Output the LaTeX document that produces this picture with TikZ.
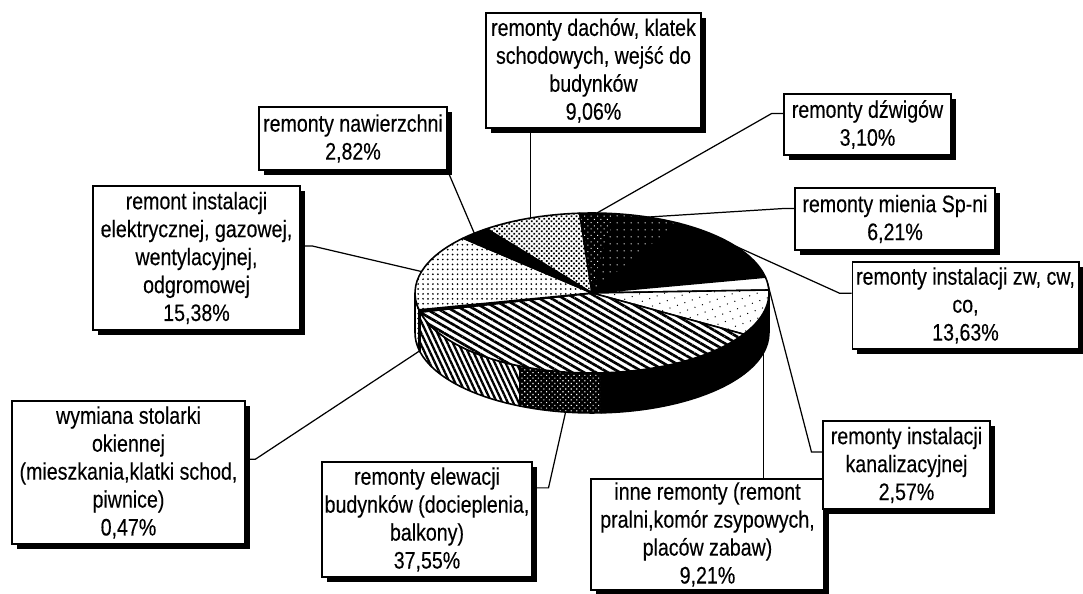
\documentclass[tikz,border=0pt]{standalone}
\usepackage{fontspec}
\setmainfont{Liberation Sans}[FakeStretch=0.82, FakeBold=0.25]
\usetikzlibrary{positioning,shadows,patterns.meta}

\newcommand{\pierx}{3.54cm}
\newcommand{\piery}{1.6cm}
\newcommand{\piedep}{0.8cm}

\begin{document}
\begin{tikzpicture}[
    x=0.02cm, y=0.02cm,
    lbl/.style={rectangle, draw, line width=0.6pt, fill=white, align=center, inner sep=1pt,
        font=\fontsize{13.6}{15.9}\selectfont,
        drop shadow={shadow xshift=2.8pt, shadow yshift=-2.8pt, fill=black, opacity=1}},
    leader/.style={line width=0.7pt},
    slice/.style={draw=black, line width=0.9pt, line join=round},
    dachfill/.style={slice, preaction={fill=white}, pattern={Dots[distance=2pt, radius=0.7pt, angle=45]}},
    dzwfill/.style={slice, preaction={fill=black}, pattern={Dots[distance=2.6pt, radius=0.4pt, angle=45]}, pattern color=white},
    miefill/.style={slice, preaction={fill=black}, pattern={Dots[distance=4pt, radius=0.45pt]}, pattern color=white},
    zwfill/.style={slice, fill=black},
    kanfill/.style={slice, fill=white},
    innfill/.style={slice, preaction={fill=white}, pattern={Dots[distance=4.5pt, radius=0.4pt, angle=20]}},
    elefill/.style={slice, preaction={fill=white}, pattern={Lines[angle=-30, distance=3.4pt, line width=1.5pt]}},
    stofill/.style={slice, fill=black},
    elkfill/.style={slice, preaction={fill=white}, pattern={Dots[distance=2.8pt, radius=0.55pt]}},
    nawfill/.style={slice, fill=black},
    elestripe/.style={slice, preaction={fill=white}, pattern={Lines[angle=-65, distance=2.8pt, line width=1.3pt]}},
    eledots/.style={slice, preaction={fill=black}, pattern={Dots[distance=2.2pt, radius=0.45pt, angle=45]}, pattern color=white}
]
\useasboundingbox (0,0) rectangle (1083,-594);

% pie
\begin{scope}[shift={(592,-293)}]
  % side faces
  \foreach \ta/\tb/\sty in {-167.86/-180/elkfill, -166.17/-167.86/stofill, -114/-166.17/elestripe,
      -87/-114/eledots, -30.99/-87/zwfill, 0/-30.99/zwfill}
    \path[\sty] (\ta:3.54cm and 1.6cm) arc[start angle=\ta, end angle=\tb, x radius=\pierx, y radius=\piery]
      -- ++(0,-\piedep) arc[start angle=\tb, end angle=\ta, x radius=\pierx, y radius=\piery] -- cycle;
  % top faces
  \foreach \ta/\tb/\sty in {126.62/94/dachfill, 94/82.84/dzwfill, 82.84/60.48/miefill, 60.48/11.42/zwfill,
      11.42/2.16/kanfill, 2.16/-30.99/innfill, -30.99/-166.17/elefill, -166.17/-167.86/stofill,
      -167.86/-223.23/elkfill, -223.23/-233.38/nawfill}
    \path[\sty] (0,0) -- (\ta:3.54cm and 1.6cm) arc[start angle=\ta, end angle=\tb, x radius=\pierx, y radius=\piery] -- cycle;
  % leader ends
  \coordinate (p-naw)  at (131.69:3.54cm and 1.6cm);
  \coordinate (p-dach) at (110.31:3.54cm and 1.6cm);
  \coordinate (p-dzw)  at (88.42:3.54cm and 1.6cm);
  \coordinate (p-mie)  at (71.66:3.54cm and 1.6cm);
  \coordinate (p-zw)   at (35.95:3.54cm and 1.6cm);
  \coordinate (p-kan)  at (6.79:3.54cm and 1.6cm);
  \coordinate (p-elk)  at (164.45:3.54cm and 1.6cm);
  \begin{scope}[yshift=-\piedep]
    \coordinate (p-inn) at (-14.41:3.54cm and 1.6cm);
    \coordinate (p-ele) at (-98.58:3.54cm and 1.6cm);
    \coordinate (p-sto) at (-167.02:3.54cm and 1.6cm);
  \end{scope}
\end{scope}

% labels
\node[lbl, minimum width=3.76cm, minimum height=1.26cm] (nawierzchni) at (353,-138.5) {remonty nawierzchni\\2,82\%};
\node[lbl, minimum width=4.3cm, minimum height=2.3cm] (dachow) at (593.5,-70.5) {remonty dachów, klatek\\schodowych, wejść do\\budynków\\9,06\%};
\node[lbl, minimum width=3.34cm, minimum height=1.22cm] (dzwigow) at (867.5,-124.5) {remonty dźwigów\\3,10\%};
\node[lbl, minimum width=4.0cm, minimum height=1.24cm] (mienia) at (895,-219) {remonty mienia Sp-ni\\6,21\%};
\node[lbl, minimum width=4.54cm, minimum height=1.74cm] (zw) at (965.5,-305.5) {remonty instalacji zw, cw,\\co,\\13,63\%};
\node[lbl, minimum width=4.66cm, minimum height=2.22cm] (inne) at (707.5,-534.5) {inne remonty (remont\\pralni,komór zsypowych,\\placów zabaw)\\9,21\%};
\node[lbl, minimum width=3.34cm, minimum height=1.76cm] (kanal) at (906.5,-465) {remonty instalacji\\kanalizacyjnej\\2,57\%};
\node[lbl, minimum width=4.2cm, minimum height=2.3cm] (elewacji) at (427,-519.5) {remonty elewacji\\budynków (docieplenia,\\balkony)\\37,55\%};
\node[lbl, minimum width=4.66cm, minimum height=2.86cm] (stolarki) at (128.5,-472.5) {wymiana stolarki\\okiennej\\(mieszkania,klatki schod,\\piwnice)\\0,47\%};
\node[lbl, minimum width=4.14cm, minimum height=2.88cm] (elektr) at (196.5,-258) {remont instalacji\\elektrycznej, gazowej,\\wentylacyjnej,\\odgromowej\\15,38\%};

% leader lines
\draw[leader] (nawierzchni.south east) -- (p-naw);
\draw[leader] (p-dach |- dachow.south) -- (p-dach);
\draw[leader] ([yshift=6.2pt]dzwigow.west) -- ++(-12,0) -- (p-dzw);
\draw[leader] ([yshift=6pt]mienia.west) -- ++(-10,0) -- (p-mie);
\draw[leader] ([yshift=7pt]zw.west) -- ++(-12,0) -- (p-zw);
\draw[leader] ([yshift=7.4pt]kanal.west) -- ++(-11,0) -- (p-kan);
\draw[leader] (p-inn |- inne.north) -- (p-inn);
\draw[leader] ([yshift=18pt]elewacji.east) -- ++(16,0) -- (p-ele);
\draw[leader] ([yshift=7.6pt]stolarki.east) -- ++(10,0) -- (p-sto);
\draw[leader] ([yshift=6.8pt]elektr.east) -- ++(12,0) -- (p-elk);

\end{tikzpicture}
\end{document}
